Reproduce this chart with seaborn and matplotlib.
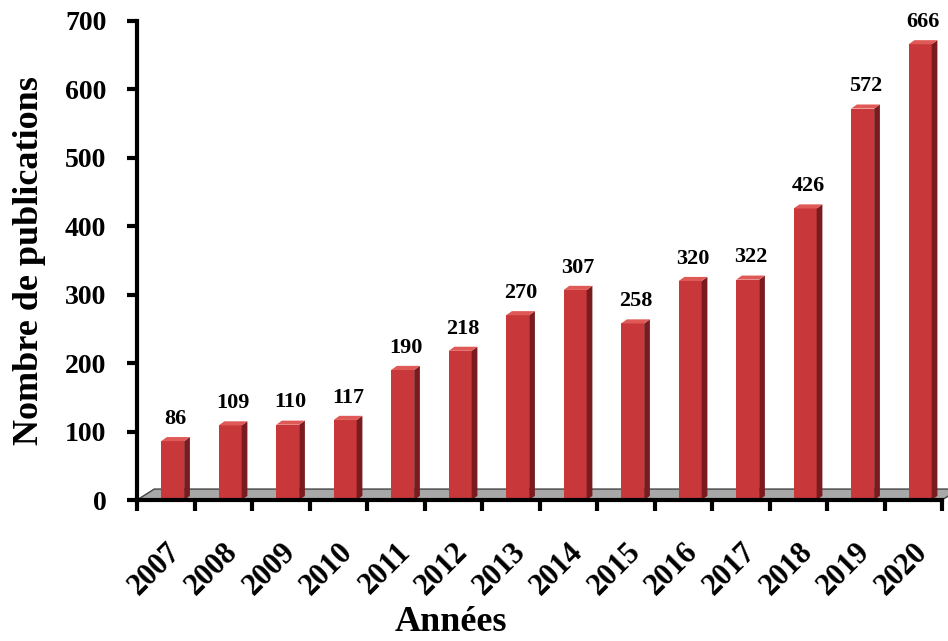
import matplotlib
matplotlib.use("Agg")
import matplotlib.pyplot as plt
import seaborn as sns
import pandas as pd
from matplotlib.patches import Polygon

years = ["2007", "2008", "2009", "2010", "2011", "2012", "2013",
         "2014", "2015", "2016", "2017", "2018", "2019", "2020"]
publications = [86, 109, 110, 117, 190, 218, 270, 307, 258, 320, 322, 426, 572, 666]
y_ticks = [0, 100, 200, 300, 400, 500, 600, 700]
x_label = "Années"
y_label = "Nombre de publications"

df = pd.DataFrame({"year": years, "n": publications})

sns.set_theme(style="white")
plt.rcParams["font.family"] = ["Liberation Serif", "DejaVu Serif"]
plt.rcParams["font.weight"] = "bold"
for k in ["text.color", "axes.labelcolor", "xtick.color", "ytick.color"]:
    plt.rcParams[k] = "black"

fig = plt.figure(figsize=(9.48, 6.41), dpi=100)
ax = fig.add_axes([137 / 948, 1 - 500 / 641, 805 / 948, 479 / 641])

front = "#c8373a"
side = "#7a1c1f"
top = "#df5a56"

sns.barplot(data=df, x="year", y="n", color=front, width=0.4, saturation=1,
            ax=ax, zorder=3, edgecolor="none")

ax.set_xlim(-0.5, len(years) - 0.5)
ax.set_ylim(0, 700)

# floor
fdx, fdy = 0.3, 16
floor = Polygon([(-0.5, 0), (len(years) - 0.5, 0), (len(years) - 0.5 + fdx, fdy), (-0.5 + fdx, fdy)],
                closed=True, facecolor="#a8a8a8", edgecolor="#444444", lw=1.0, zorder=2,
                clip_on=False)
ax.add_patch(floor)

dx, dy = 0.1, 6
for p in list(ax.patches):
    if p is floor:
        continue
    p.set_x(p.get_x() + 0.12)
    x0, w, h = p.get_x(), p.get_width(), p.get_height()
    ax.add_patch(Polygon([(x0 + w, 0), (x0 + w + dx, dy), (x0 + w + dx, h + dy), (x0 + w, h)],
                         closed=True, facecolor=side, edgecolor="none", zorder=3))
    ax.add_patch(Polygon([(x0, h), (x0 + dx, h + dy), (x0 + w + dx, h + dy), (x0 + w, h)],
                         closed=True, facecolor=top, edgecolor="none", zorder=3, clip_on=False))
    ax.text(x0 + w / 2 + dx / 2, h + dy + 12, f"{int(round(h))}", ha="center", va="bottom",
            fontsize=16, fontweight="bold", color="black", zorder=4)

ax.set_yticks(y_ticks)
ax.set_yticklabels([str(v) for v in y_ticks], fontsize=20, fontweight="bold")
ax.tick_params(axis="y", which="major", direction="out", length=7, width=3, pad=15,
               left=True, color="black")

ax.set_xticks(range(len(years)))
ax.set_xticklabels(years, rotation=45, ha="right", rotation_mode="anchor",
                   fontsize=22, fontweight="bold")
ax.tick_params(axis="x", which="major", length=0, pad=27)
ax.set_xticks([i - 0.5 for i in range(len(years) + 1)], minor=True)
ax.tick_params(axis="x", which="minor", direction="out", length=8, width=3,
               bottom=True, color="black")

for s in ["top", "right"]:
    ax.spines[s].set_visible(False)
for s in ["left", "bottom"]:
    ax.spines[s].set_visible(True)
    ax.spines[s].set_color("black")
    ax.spines[s].set_linewidth(3)
ax.spines["bottom"].set_zorder(5)

ax.set_xlabel(x_label, fontsize=26, fontweight="bold")
ax.xaxis.set_label_coords(0.39, -0.255)
ax.xaxis.label.set_va("center")
ax.set_ylabel(y_label, fontsize=26, fontweight="bold")
ax.yaxis.set_label_coords(-0.133, 0.5)
ax.yaxis.label.set_va("center")

fig.savefig("out.png", dpi=100)
